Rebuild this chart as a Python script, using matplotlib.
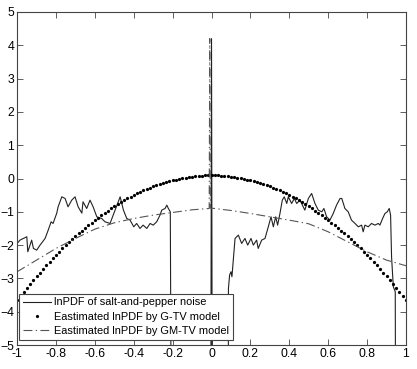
import matplotlib
matplotlib.use("Agg")
import matplotlib.pyplot as plt
import numpy as np

plt.rcParams['font.family'] = ['Liberation Sans', 'DejaVu Sans']

# lnPDF of salt-and-pepper noise (-8 = log of zero)
noise_x = [-1.0, -0.985, -0.968, -0.95, -0.945, -0.925, -0.916, -0.899, -0.882, -0.856,
           -0.84, -0.825, -0.815, -0.796, -0.789, -0.77, -0.753, -0.738, -0.719, -0.702,
           -0.686, -0.667, -0.661, -0.642, -0.625, -0.609, -0.59, -0.565, -0.548, -0.522,
           -0.496, -0.47, -0.453, -0.436, -0.419, -0.40, -0.385, -0.368, -0.352, -0.333,
           -0.316, -0.30, -0.282, -0.265, -0.256, -0.239, -0.23, -0.222, -0.212, -0.207,
           -0.004, 0.0, 0.004, 0.086,
           0.087, 0.093, 0.1, 0.105, 0.121, 0.138, 0.155, 0.172, 0.186, 0.203,
           0.215, 0.232, 0.24, 0.258, 0.275, 0.292, 0.306, 0.318, 0.33, 0.34,
           0.352, 0.364, 0.374, 0.387, 0.395, 0.412, 0.426, 0.438, 0.455, 0.48,
           0.498, 0.515, 0.532, 0.549, 0.567, 0.578, 0.592, 0.609, 0.626, 0.643,
           0.661, 0.67, 0.686, 0.703, 0.72, 0.738, 0.755, 0.772, 0.78, 0.789,
           0.806, 0.823, 0.84, 0.858, 0.866, 0.88, 0.892, 0.904, 0.914, 0.921,
           0.926, 0.935, 0.945, 0.947]
noise_y = [-1.95, -1.85, -1.8, -1.75, -2.2, -1.85, -2.1, -2.15, -2.0, -1.8,
           -1.55, -1.3, -1.35, -1.04, -0.85, -0.55, -0.6, -0.85, -0.65, -0.55,
           -0.85, -1.04, -0.7, -0.9, -0.65, -0.85, -1.15, -1.2, -1.3, -1.35,
           -0.95, -0.55, -0.95, -1.2, -1.25, -1.45, -1.35, -1.5, -1.4, -1.5,
           -1.35, -1.4, -1.3, -1.1, -0.95, -0.9, -0.8, -0.9, -1.0, -8,
           -8, 4.2, -8, -8,
           -3.3, -2.9, -2.8, -2.95, -1.8, -1.7, -1.95, -1.8, -2.0, -1.8,
           -2.0, -1.85, -2.1, -1.85, -1.8, -1.45, -1.15, -1.45, -1.15, -1.4,
           -1.05, -0.65, -0.55, -0.75, -0.55, -0.75, -0.6, -0.75, -0.65, -0.95,
           -0.6, -0.45, -0.75, -0.95, -1.0, -0.9, -1.15, -1.25, -1.05, -0.8,
           -0.6, -0.6, -0.9, -1.0, -1.25, -1.35, -1.45, -1.4, -1.6, -1.4,
           -1.45, -1.35, -1.4, -1.35, -1.4, -1.2, -1.05, -1.0, -0.9, -1.1,
           -2.35, -3.25, -3.4, -8]

# G-TV estimate, one dot every 1/60, values for x = 0 .. 1 (symmetric)
gtv_half = [0.10, 0.10, 0.10, 0.09, 0.08, 0.07, 0.06, 0.05, 0.03, 0.02,
            0.00, -0.03, -0.05, -0.08, -0.10, -0.13, -0.17, -0.20, -0.24, -0.28,
            -0.32, -0.36, -0.40, -0.45, -0.50, -0.55, -0.60, -0.66, -0.72, -0.78,
            -0.84, -0.90, -0.97, -1.03, -1.10, -1.18, -1.25, -1.33, -1.40, -1.48,
            -1.57, -1.65, -1.74, -1.83, -1.92, -2.01, -2.10, -2.20, -2.30, -2.40,
            -2.50, -2.61, -2.72, -2.83, -2.94, -3.05, -3.17, -3.28, -3.40, -3.53,
            -3.65]
gtv_y = gtv_half[::-1] + gtv_half[1:]
gtv_x = np.linspace(-1, 1, len(gtv_y))

# GM-TV estimate
gmtv_x = [-1.0, -0.9, -0.8, -0.7, -0.6, -0.5, -0.4, -0.3, -0.2, -0.1, -0.012,
          -0.009, -0.006, 0.0, 0.1, 0.2, 0.3, 0.4, 0.5, 0.6, 0.7, 0.8, 0.9, 1.0]
gmtv_y = [-2.8, -2.45, -2.1, -1.8, -1.52, -1.33, -1.2, -1.1, -1.02, -0.94, -0.9,
          4.2, -0.89, -0.89, -0.96, -1.05, -1.15, -1.25, -1.36, -1.6, -1.9, -2.2, -2.45, -2.62]

fig = plt.figure(figsize=(4.17, 3.69), dpi=100)
ax = fig.add_axes([0.041, 0.065, 0.9325, 0.9025])

ax.plot(noise_x, noise_y, "-", color="#222222", linewidth=0.8,
        label="lnPDF of salt-and-pepper noise")
ax.plot(gtv_x, gtv_y, ".", color="black", markersize=2.6,
        label="Eastimated lnPDF by G-TV model")
ax.plot(gmtv_x, gmtv_y, color="#555555", linewidth=0.8,
        linestyle=(0, (8, 3, 1.2, 3)),
        label="Eastimated lnPDF by GM-TV model")

ax.set_xlim(-1, 1)
ax.set_ylim(-5, 5)
ax.set_xticks(np.arange(-1, 1.01, 0.2))
ax.set_xticklabels(["-1", "-0.8", "-0.6", "-0.4", "-0.2", "0", "0.2", "0.4", "0.6", "0.8", "1"])
ax.set_yticks(range(-5, 6))
ax.tick_params(direction="in", length=4, width=0.6, top=True, right=True,
               labelsize=8.8, pad=2, color="#444444")
for s in ax.spines.values():
    s.set_linewidth(0.8)
    s.set_color("#444444")

leg = ax.legend(loc="lower left", bbox_to_anchor=(0.005, 0.015), borderaxespad=0,
                fontsize=7.9, fancybox=False, framealpha=1, edgecolor="#444444",
                handlelength=2.6, handletextpad=0.25, borderpad=0.35, labelspacing=0.4,
                markerscale=1.0)
leg.get_frame().set_linewidth(0.8)

fig.savefig("out.png", dpi=100, facecolor="white")
